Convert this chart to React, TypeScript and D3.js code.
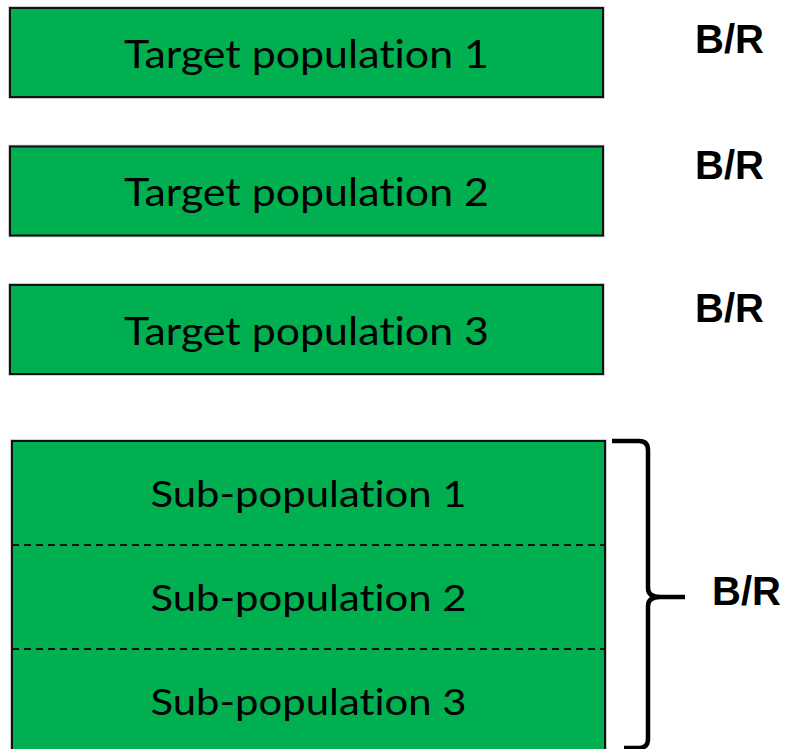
import React from "react";
import * as d3 from "d3";

// chart content
const targets = ["Target population 1", "Target population 2", "Target population 3"];
const subPops = ["Sub-population 1", "Sub-population 2", "Sub-population 3"];
const ratioLabel = "B/R";

const W = 785;
const H = 749;
const GREEN = "#00B050";
const boxFont = "Lato, 'Open Sans', sans-serif";
const brFont = "'Liberation Sans', Arial, sans-serif";

export default function App() {
  // target boxes, each its own row
  const yTarget = d3.scaleBand<string>()
    .domain(targets)
    .range([8, 374])
    .paddingInner(0.357)
    .paddingOuter(0);
  // stacked sub-population block
  const ySub = d3.scaleBand<string>()
    .domain(subPops)
    .range([441, 753])
    .padding(0);

  const boxX0 = 10, boxX1 = 603;
  const subX0 = 12, subX1 = 605;
  const midX = (boxX0 + boxX1) / 2;
  // B/R baseline offsets from each box top (they aren't aligned the same in the picture)
  const brOffsets = [45, 33, 37];

  // curly brace, drawn with d3.path
  const bx = 648, top = 441, bot = 748, tipY = 597, tipX = 685, r = 9;
  const p = d3.path();
  p.moveTo(612, top);
  p.lineTo(bx - r, top);
  p.quadraticCurveTo(bx, top, bx, top + r);
  p.lineTo(bx, tipY - r);
  p.quadraticCurveTo(bx, tipY, bx + 12, tipY);
  p.lineTo(tipX, tipY);
  p.moveTo(bx + 12, tipY);
  p.quadraticCurveTo(bx, tipY, bx, tipY + r);
  p.lineTo(bx, bot - r);
  p.quadraticCurveTo(bx, bot, bx - r, bot);
  p.lineTo(624, bot);

  const noLig = { fontVariantLigatures: "none" as const };

  return (
    <svg width={W} height={H} style={{ position: "absolute", left: 0, top: 0, background: "#fff" }}>
      {targets.map((t, i) => {
        const y = yTarget(t)!;
        const h = yTarget.bandwidth();
        return (
          <g key={t}>
            <rect x={boxX0} y={y} width={boxX1 - boxX0} height={h}
              fill={GREEN} stroke="#c4c4c4" strokeWidth={3.5} />
            <rect x={boxX0} y={y} width={boxX1 - boxX0} height={h}
              fill={GREEN} stroke="#111" strokeWidth={2} />
            <text x={midX} y={y + 60} textAnchor="middle" style={noLig}
              fontFamily={boxFont} fontSize={39}
              textLength={365} lengthAdjust="spacingAndGlyphs" fill="#000">
              {t}
            </text>
            <text x={695} y={y + brOffsets[i]} fontFamily={brFont}
              fontWeight="bold" fontSize={40} fill="#000">
              {ratioLabel}
            </text>
          </g>
        );
      })}

      <rect x={subX0} y={ySub.range()[0]} width={subX1 - subX0}
        height={ySub.range()[1] - ySub.range()[0]}
        fill={GREEN} stroke="#c4c4c4" strokeWidth={3.5} />
      <rect x={subX0} y={ySub.range()[0]} width={subX1 - subX0}
        height={ySub.range()[1] - ySub.range()[0]}
        fill={GREEN} stroke="#111" strokeWidth={2} />
      {subPops.map((s, i) => {
        const y = ySub(s)!;
        return (
          <g key={s}>
            {i > 0 && (
              <line x1={subX0} x2={subX1} y1={y} y2={y}
                stroke="#111" strokeWidth={2.2} strokeDasharray="7,5" />
            )}
            <text x={(subX0 + subX1) / 2} y={y + 66} textAnchor="middle" style={noLig}
              fontFamily={boxFont} fontSize={36}
              textLength={316} lengthAdjust="spacingAndGlyphs" fill="#000">
              {s}
            </text>
          </g>
        );
      })}

      <path d={p.toString()} fill="none" stroke="#000" strokeWidth={4.5} strokeLinecap="butt" />
      <text x={712} y={605} fontFamily={brFont}
        fontWeight="bold" fontSize={40} fill="#000">
        {ratioLabel}
      </text>
    </svg>
  );
}
